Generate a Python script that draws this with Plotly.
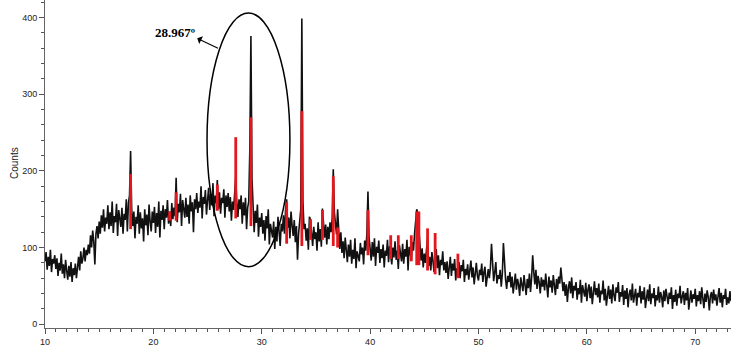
import plotly.graph_objects as go

# ---- data: counts, 0.1 degree steps, one list per degree ----
scan_start = 10.0
scan_step = 0.1
c10 = [82, 94, 71, 88, 76, 97, 68, 85, 79, 90]
c11 = [72, 86, 63, 80, 70, 92, 66, 78, 60, 84]
c12 = [70, 58, 76, 62, 81, 55, 73, 64, 79, 60]
c13 = [74, 88, 70, 95, 79, 86, 100, 82, 97, 90]
c14 = [104, 92, 116, 100, 122, 108, 78, 118, 128, 112]
c15 = [134, 118, 142, 126, 150, 121, 139, 131, 155, 124]
c16 = [146, 128, 160, 119, 141, 133, 157, 115, 149, 138]
c17 = [127, 152, 118, 144, 136, 163, 121, 158, 168, 226]
c18 = [150, 128, 147, 112, 140, 131, 155, 118, 146, 125]
c19 = [138, 108, 150, 129, 143, 116, 156, 134, 121, 147]
c20 = [132, 153, 119, 145, 127, 160, 113, 148, 136, 155]
c21 = [124, 150, 139, 162, 131, 147, 128, 158, 137, 152]
c22 = [141, 191, 133, 157, 146, 170, 128, 162, 150, 139]
c23 = [165, 140, 156, 131, 168, 147, 159, 120, 163, 150]
c24 = [171, 145, 160, 152, 180, 138, 166, 157, 175, 143]
c25 = [162, 178, 149, 170, 155, 184, 141, 168, 158, 188]
c26 = [150, 172, 144, 165, 158, 176, 139, 168, 153, 171]
c27 = [147, 166, 135, 160, 149, 172, 192, 158, 140, 163]
c28 = [150, 168, 131, 159, 142, 165, 124, 152, 160, 228]
c29 = [376, 190, 141, 120, 148, 132, 156, 114, 139, 127]
c30 = [145, 118, 136, 109, 141, 125, 150, 104, 131, 122]
c31 = [113, 134, 98, 127, 108, 140, 116, 102, 131, 121]
c32 = [142, 118, 150, 163, 126, 139, 112, 147, 129, 115]
c33 = [136, 107, 128, 84, 118, 131, 150, 399, 160, 124]
c34 = [131, 109, 125, 97, 140, 136, 118, 102, 127, 111]
c35 = [120, 96, 133, 108, 124, 101, 151, 126, 113, 130]
c36 = [104, 127, 111, 133, 120, 138, 202, 146, 124, 117]
c37 = [150, 112, 98, 120, 93, 108, 86, 113, 99, 81]
c38 = [104, 88, 110, 79, 97, 85, 112, 73, 95, 90]
c39 = [82, 106, 91, 100, 78, 109, 96, 118, 173, 114]
c40 = [95, 83, 107, 88, 112, 76, 101, 93, 109, 80]
c41 = [98, 86, 104, 74, 96, 89, 110, 81, 102, 91]
c42 = [78, 100, 87, 108, 84, 96, 72, 103, 90, 82]
c43 = [105, 79, 98, 88, 110, 70, 101, 93, 84, 107]
c44 = [96, 118, 134, 150, 145, 128, 104, 83, 99, 74]
c45 = [92, 80, 97, 112, 76, 88, 70, 94, 83, 68]
c46 = [86, 98, 73, 90, 64, 84, 77, 95, 70, 81]
c47 = [67, 82, 59, 76, 88, 63, 79, 70, 85, 57]
c48 = [73, 66, 81, 60, 77, 69, 84, 55, 72, 64]
c49 = [78, 58, 70, 83, 61, 74, 52, 69, 80, 63]
c50 = [57, 71, 64, 79, 55, 68, 75, 49, 66, 72]
c51 = [60, 74, 105, 70, 56, 68, 81, 53, 64, 59]
c52 = [71, 49, 66, 106, 72, 58, 46, 63, 55, 68]
c53 = [48, 62, 40, 57, 66, 45, 59, 52, 37, 61]
c54 = [54, 43, 64, 50, 38, 59, 47, 66, 42, 60]
c55 = [90, 68, 52, 71, 46, 63, 55, 40, 61, 49]
c56 = [58, 44, 66, 51, 35, 62, 48, 57, 41, 64]
c57 = [50, 38, 59, 46, 62, 53, 74, 60, 43, 55]
c58 = [37, 52, 29, 48, 56, 40, 61, 34, 50, 44]
c59 = [55, 32, 47, 39, 58, 28, 51, 43, 36, 54]
c60 = [30, 45, 52, 34, 49, 26, 43, 56, 38, 47]
c61 = [35, 53, 28, 44, 39, 57, 31, 46, 24, 42]
c62 = [50, 33, 45, 27, 52, 38, 30, 48, 41, 55]
c63 = [29, 42, 36, 51, 25, 44, 33, 47, 22, 39]
c64 = [45, 31, 53, 28, 38, 46, 24, 41, 35, 50]
c65 = [27, 43, 32, 48, 21, 39, 45, 30, 52, 26]
c66 = [40, 34, 47, 23, 38, 31, 49, 28, 42, 36]
c67 = [22, 44, 30, 46, 35, 26, 41, 33, 48, 20]
c68 = [38, 29, 45, 24, 40, 34, 50, 27, 36, 43]
c69 = [25, 41, 31, 47, 19, 36, 44, 28, 39, 33]
c70 = [46, 23, 38, 30, 43, 26, 48, 34, 21, 40]
c71 = [29, 44, 35, 18, 37, 42, 27, 45, 31, 39]
c72 = [24, 36, 47, 28, 41, 22, 38, 33, 46, 25]
c73 = [35, 27, 43, 30]

# reference pattern sticks (red)
stick_pos = [17.9, 21.5, 22.1, 25.9, 27.6, 29.0, 32.3, 33.7, 34.5, 35.6, 36.6,
             37.0, 39.8, 41.9, 42.6, 43.8, 44.3, 44.5, 45.3, 46.0, 48.1]
stick_base = [124, 135, 135, 148, 138, 128, 105, 102, 110, 110, 102,
              100, 90, 85, 85, 82, 77, 77, 70, 65, 60]
stick_top = [196, 147, 172, 182, 244, 270, 159, 278, 137, 149, 193,
             126, 149, 116, 116, 116, 147, 147, 125, 119, 92]

x_ticks = [10, 20, 30, 40, 50, 60, 70]
y_ticks = [0, 100, 200, 300, 400]
peak_label = "28.967º"

# ---- build ----
rows = [c10, c11, c12, c13, c14, c15, c16, c17, c18, c19, c20, c21, c22, c23,
        c24, c25, c26, c27, c28, c29, c30, c31, c32, c33, c34, c35, c36, c37,
        c38, c39, c40, c41, c42, c43, c44, c45, c46, c47, c48, c49, c50, c51,
        c52, c53, c54, c55, c56, c57, c58, c59, c60, c61, c62, c63, c64, c65,
        c66, c67, c68, c69, c70, c71, c72, c73]
counts = [v for r in rows for v in r]
two_theta = [round(scan_start + scan_step * i, 2) for i in range(len(counts))]

sx, sy = [], []
for p, b, t in zip(stick_pos, stick_base, stick_top):
    sx += [p, p, None]
    sy += [b, t, None]

fig = go.Figure()
fig.add_trace(go.Scatter(x=two_theta, y=counts, mode="lines",
                         line=dict(color="#111111", width=1.6), hoverinfo="skip"))
fig.add_trace(go.Scatter(x=sx, y=sy, mode="lines",
                         line=dict(color="#e3171e", width=2.8), hoverinfo="skip"))

# ellipse around the main peak
fig.add_shape(type="circle", xref="x", yref="y", x0=24.95, x1=32.6, y0=75, y1=406,
              line=dict(color="black", width=1.5))

fig.add_annotation(x=21.95, y=381, xref="x", yref="y", text="<b>" + peak_label + "</b>",
                   showarrow=False, font=dict(family="Liberation Serif", size=13, color="black"))
fig.add_annotation(x=24.05, y=373, xref="x", yref="y", text="", showarrow=True,
                   ax=26.1, ay=359, axref="x", ayref="y",
                   arrowhead=1, arrowsize=1.3, arrowwidth=1.1, arrowcolor="black")

fig.add_annotation(x=-31 / 686, y=(332 - 165) / 332, xref="paper", yref="paper",
                   xanchor="center", yanchor="middle",
                   text="Counts", textangle=-90, showarrow=False,
                   font=dict(family="Liberation Sans", size=10, color="#222"))

axis_font = dict(family="Liberation Sans", size=9, color="#222")
fig.update_xaxes(range=[10, 73.3], tickvals=x_ticks, ticks="outside", ticklen=5,
                 tickcolor="#555", showline=True, linecolor="#666", linewidth=1,
                 showgrid=False, zeroline=False, tickfont=axis_font,
                 minor=dict(dtick=1, ticks="outside", ticklen=3, tickcolor="#555", showgrid=False))
fig.update_yaxes(range=[-5, 423], tickvals=y_ticks, ticks="outside", ticklen=5,
                 tickcolor="#555", showline=True, linecolor="#666", linewidth=1,
                 showgrid=False, zeroline=False, tickfont=axis_font,
                 minor=dict(dtick=20, ticks="outside", ticklen=3, tickcolor="#555", showgrid=False))
fig.update_layout(width=731, height=347, margin=dict(l=45, r=0, t=0, b=15),
                  plot_bgcolor="white", paper_bgcolor="white", showlegend=False)

fig.write_html("out.html", config={"displayModeBar": False},
               post_script="document.body.style.margin='0';document.body.style.overflow='hidden';")
